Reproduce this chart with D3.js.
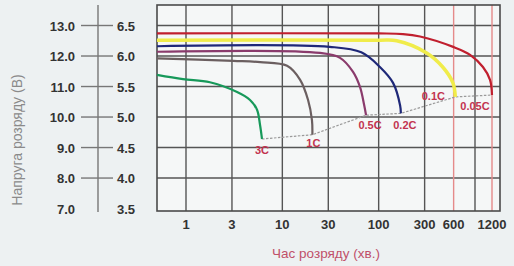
<!DOCTYPE html>
<html>
<head>
<meta charset="utf-8">
<script src="https://cdn.jsdelivr.net/npm/d3@7"></script>
<style>
body { margin: 0; background: #edf1f2; }
text { font-family: "Liberation Sans", Arial, sans-serif; }
</style>
</head>
<body>
<svg id="chart" width="514" height="266"></svg>
<script>
// discharge curves, time in minutes, voltage on the 6V scale
var rates = ["3C", "1C", "0.5C", "0.2C", "0.1C", "0.05C"]

var curve3C = [[0.5, 5.69], [0.93, 5.62], [1.77, 5.57], [3.39, 5.41], [4.62, 5.28], [5.46, 5.12], [5.87, 4.87], [6.15, 4.64]]
var curve1C = [[0.5, 5.96], [3.1, 5.92], [5.9, 5.90], [11.2, 5.84], [15.3, 5.61], [18.5, 5.28], [20.3, 4.95], [20.5, 4.71]]
var curve05C = [[0.5, 6.07], [24.6, 6.05], [39.7, 5.97], [54.2, 5.74], [64.1, 5.49], [70.6, 5.2], [74, 5.03]]
var curve02C = [[0.5, 6.16], [31, 6.15], [66, 6.06], [103, 5.82], [141, 5.56], [167, 5.19], [170, 5.06]]
var curve01C = [[0.5, 6.26], [100, 6.26], [154, 6.25], [315, 6.05], [462, 5.82], [590, 5.56], [625, 5.33]]
var curve005C = [[0.5, 6.37], [100, 6.37], [179, 6.36], [269, 6.32], [593, 6.15], [889, 6.02], [1089, 5.82], [1175, 5.61], [1200, 5.36]]

var xTicks = [1, 3, 10, 30, 100, 300, 600, 1200]
var xGrid = [1, 3, 10, 30, 100, 300, 1000]
var xRedGrid = [600, 1200]
var vTicks = [3.5, 4.0, 4.5, 5.0, 5.5, 6.0, 6.5]

var curves = [curve3C, curve1C, curve05C, curve02C, curve01C, curve005C]

var colorScale = d3.scaleOrdinal()
        .domain(rates)
        .range(["#17995a", "#6b5f60", "#8a3b6c", "#1e2878", "#f0ec4a", "#c01f2e"])

// label offsets from the end of each curve
var labelPos = {"3C": [0, 15], "1C": [1, 12], "0.5C": [4, 14], "0.2C": [4, 16], "0.1C": [-22, 3], "0.05C": [-17, 15]}

var svg = d3.select("#chart")
var padLeft = 157, padTop = 5, width = 343, height = 206

var x = d3.scaleLog()
        .domain([0.5, 1000, 1200, 1450])
        .range([0, 318, 335, width])
var y = d3.scaleLinear()
        .domain([3.46, 6.836])
        .range([height, 0])

var plot = svg.append("g").attr("transform", "translate(" + padLeft + "," + padTop + ")")

plot.append("rect")
    .attr("width", width)
    .attr("height", height)
    .style("fill", "#f5f7f7")

plot.selectAll(".hgrid")
    .data(vTicks.slice(1))
    .enter().append("line")
    .attr("x1", 0).attr("x2", width)
    .attr("y1", function(d) { return y(d) })
    .attr("y2", function(d) { return y(d) })
    .style("stroke", "#555").style("stroke-width", 1.4)

plot.selectAll(".vgrid")
    .data(xGrid)
    .enter().append("line")
    .attr("x1", function(d) { return x(d) })
    .attr("x2", function(d) { return x(d) })
    .attr("y1", 0).attr("y2", height)
    .style("stroke", "#555").style("stroke-width", 1.4)

plot.selectAll(".redgrid")
    .data(xRedGrid)
    .enter().append("line")
    .attr("x1", function(d) { return x(d) })
    .attr("x2", function(d) { return x(d) })
    .attr("y1", 0).attr("y2", height)
    .style("stroke", "#e58a8a").style("stroke-width", 1.4)

plot.append("rect")
    .attr("width", width)
    .attr("height", height)
    .style("fill", "none")
    .style("stroke", "#4a4a4a")
    .style("stroke-width", 1.6)

// dashed line joining the cut-off points
var ends = curves.map(function(c) { return c[c.length - 1] })
plot.append("path")
    .datum(ends)
    .attr("d", d3.line().x(function(d) { return x(d[0]) }).y(function(d) { return y(d[1]) }))
    .style("fill", "none")
    .style("stroke", "#9a9a9a")
    .style("stroke-width", 1.2)
    .style("stroke-dasharray", "2.5,1.5")

var line = d3.line()
    .curve(d3.curveCatmullRom.alpha(0.5))
    .x(function(d) { return x(d[0]) })
    .y(function(d) { return y(d[1]) })

rates.forEach(function (rate, i) {
  plot.append("path")
    .datum(curves[i])
    .attr("d", line)
    .style("fill", "none")
    .style("stroke", colorScale(rate))
    .style("stroke-width", rate == "0.1C" ? 3.5 : 2.2)

  var end = curves[i][curves[i].length - 1]
  plot.append("text")
    .attr("x", x(end[0]) + labelPos[rate][0])
    .attr("y", y(end[1]) + labelPos[rate][1])
    .style("text-anchor", "middle")
    .style("font-size", "11px")
    .style("font-weight", "bold")
    .style("fill", "#c2334f")
    .text(rate)
})

// x tick labels
svg.selectAll(".xlab")
    .data(xTicks)
    .enter().append("text")
    .attr("x", function(d) { return padLeft + x(d) })
    .attr("y", 229)
    .style("text-anchor", "middle")
    .style("font-size", "13px")
    .style("font-weight", "bold")
    .style("fill", "#333")
    .text(function(d) { return d })

// double voltage axis on the left
var axisX = 98
svg.append("line")
    .attr("x1", axisX).attr("x2", axisX)
    .attr("y1", padTop).attr("y2", padTop + height + 1)
    .style("stroke", "#777").style("stroke-width", 1.4)

svg.selectAll(".ytick")
    .data(vTicks.slice(1))
    .enter().append("line")
    .attr("x1", 81).attr("x2", 113)
    .attr("y1", function(d) { return padTop + y(d) })
    .attr("y2", function(d) { return padTop + y(d) })
    .style("stroke", "#777").style("stroke-width", 1.4)

svg.selectAll(".ylab12")
    .data(vTicks)
    .enter().append("text")
    .attr("x", 75)
    .attr("y", function(d) { return padTop + y(d) + 5 })
    .style("text-anchor", "end")
    .style("font-size", "13px")
    .style("font-weight", "bold")
    .style("fill", "#333")
    .text(function(d) { return (d * 2).toFixed(1) })

svg.selectAll(".ylab6")
    .data(vTicks)
    .enter().append("text")
    .attr("x", 117)
    .attr("y", function(d) { return padTop + y(d) + 5 })
    .style("font-size", "13px")
    .style("font-weight", "bold")
    .style("fill", "#333")
    .text(function(d) { return d.toFixed(1) })

svg.append("text")
    .attr("transform", "translate(22,140) rotate(-90)")
    .style("text-anchor", "middle")
    .style("font-size", "14px")
    .style("fill", "#8a8a8a")
    .text("Напруга розряду (В)")

svg.append("text")
    .attr("x", 326)
    .attr("y", 258)
    .style("text-anchor", "middle")
    .style("font-size", "13.5px")
    .style("fill", "#c0506a")
    .text("Час розряду (хв.)")
</script>
</body>
</html>
